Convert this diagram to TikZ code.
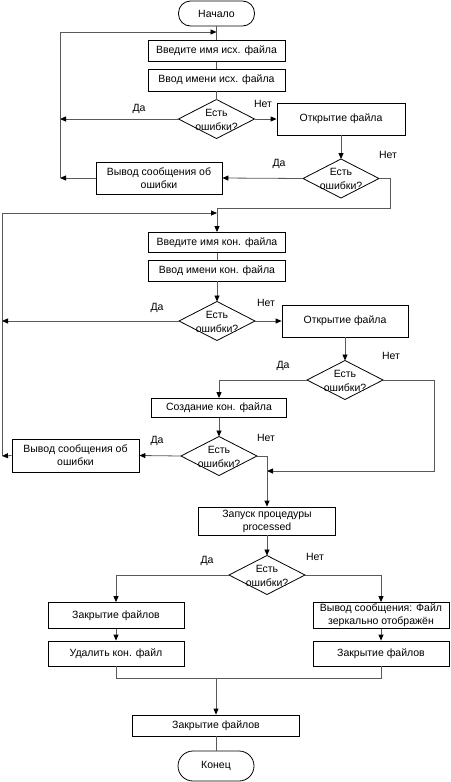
\documentclass[tikz,border=0pt]{standalone}
\usepackage{fontspec}
\setmainfont{Liberation Sans}
\usetikzlibrary{arrows.meta}
\begin{document}
\begin{tikzpicture}[x=1pt,y=-1pt,
  base/.style={draw=black,line width=0.8pt,inner sep=1pt,align=center,font=\fontsize{10.5}{13}\selectfont},
  proc/.style={base,rectangle},
  term/.style={base,rectangle,rounded corners=12pt},
  dia/.style={draw=black,line width=0.8pt},
  dtxt/.style={inner sep=0pt,align=center,font=\fontsize{10.5}{14}\selectfont},
  lbl/.style={inner sep=0pt,font=\fontsize{10.5}{12}\selectfont},
  con/.style={draw=black!65,line width=0.8pt},
  arr/.style={con,-{Triangle[length=6pt,width=5pt,fill=black,color=black]}}
]
\useasboundingbox (0,0) rectangle (450,782);
\newcommand{\mydia}[3]{%
  \coordinate (#1) at (#2,#3);
  \path[dia] (#2-38,#3) coordinate (#1w) -- (#2,#3-19.5) coordinate (#1n) -- (#2+38,#3) coordinate (#1e) -- (#2,#3+19.5) coordinate (#1s) -- cycle;
  \node[dtxt] (#1t) at (#2,#3+0.5) {Есть\\ошибки?};}

% nodes
\node[term,minimum width=76pt,minimum height=25pt] (start) at (216.5,13.5) {Начало};
\node[proc,minimum width=137pt,minimum height=21pt] (b1) at (216.5,51) {Введите имя исх. файла};
\node[proc,minimum width=137pt,minimum height=22pt] (b2) at (216.5,80) {Ввод имени исх. файла};
\mydia{d1}{216.5}{119}
\node[proc,minimum width=128pt,minimum height=32pt] (o1) at (341,119) {Открытие файла};
\mydia{d2}{341}{178.5}
\node[proc,minimum width=126pt,minimum height=32pt] (e1) at (159,178) {Вывод сообщения об\\ошибки};

\node[proc,minimum width=137pt,minimum height=20pt] (b3) at (217,242.5) {Введите имя кон. файла};
\node[proc,minimum width=137pt,minimum height=21pt] (b4) at (217,270.5) {Ввод имени кон. файла};
\mydia{d3}{217}{321}
\node[proc,minimum width=126pt,minimum height=32pt] (o2) at (345,321) {Открытие файла};
\mydia{d4}{345}{380}
\node[proc,minimum width=135pt,minimum height=19pt] (c1) at (219,408) {Создание кон. файла};
\mydia{d5}{219}{456}
\node[proc,minimum width=127pt,minimum height=33pt] (e2) at (75.5,455.5) {Вывод сообщения об\\ошибки};

\node[proc,minimum width=137pt,minimum height=28pt] (p1) at (267,521) {Запуск процедуры\\processed};
\mydia{d6}{267}{575}
\node[proc,minimum width=136pt,minimum height=26pt] (z1) at (116,615.5) {Закрытие файлов};
\node[proc,minimum width=136pt,minimum height=25pt] (u1) at (116,653.5) {Удалить кон. файл};
\node[proc,minimum width=136pt,minimum height=26pt] (v1) at (381,615.5) {Вывод сообщения: Файл\\зеркально отображён};
\node[proc,minimum width=136pt,minimum height=25pt] (z2) at (381,653.5) {Закрытие файлов};
\node[proc,minimum width=167pt,minimum height=21pt] (z3) at (216,725.5) {Закрытие файлов};
\node[term,minimum width=76pt,minimum height=30pt,rounded corners=15pt] (end) at (216,766) {Конец};

% coordinates
\coordinate (L1a) at (60,119);
\coordinate (L1b) at (60,178);
\coordinate (L1top) at (60,32);
\coordinate (M1) at (216.5,32);
\coordinate (R2a) at (390.5,178.5);
\coordinate (R2b) at (390.5,208);
\coordinate (M2) at (217,208);
\coordinate (L2top) at (2,213);
\coordinate (M2b) at (217,213);
\coordinate (L2a) at (2,321);
\coordinate (L2b) at (2,456);
\coordinate (K4) at (219,380);
\coordinate (R4a) at (434,380);
\coordinate (R4b) at (434,471);
\coordinate (J4) at (267,471);
\coordinate (R5) at (267,456);
\coordinate (K6l) at (116,575);
\coordinate (K6r) at (381,575);
\coordinate (Jl) at (116,678);
\coordinate (Jr) at (381,678);
\coordinate (Jm) at (216,678);

% connectors part 1
\draw[con] (start) -- (b1);
\draw[con] (b1) -- (b2);
\draw[con] (b2) -- (d1n);
\draw[arr] (d1w) -- (L1a);
\draw[arr] (d1e) -- (o1.west);
\draw[arr] (o1.south) -- (d2n);
\draw[arr] (d2w) -- (e1.east);
\draw[arr] (e1.west) -- (L1b);
\draw[arr] (L1b) -- (L1top) -- (M1);
\draw[con] (d2e) -- (R2a) -- (R2b) -- (M2);
\draw[arr] (M2) -- (b3.north);

% part 2
\draw[arr] (L2b) -- (L2top) -- (M2b);
\draw[con] (b3) -- (b4);
\draw[arr] (b4) -- (d3n);
\draw[arr] (d3w) -- (L2a);
\draw[arr] (d3e) -- (o2.west);
\draw[arr] (o2.south) -- (d4n);
\draw[arr] (d4w) -- (K4) -- (c1.north);
\draw[arr] (c1) -- (d5n);
\draw[arr] (d5w) -- (e2.east);
\draw[arr] (e2.west) -- (L2b);
\draw[arr] (d4e) -- (R4a) -- (R4b) -- (J4);
\draw[arr] (d5e) -- (R5) -- (p1.north);

% part 3
\draw[arr] (p1) -- (d6n);
\draw[arr] (d6w) -- (K6l) -- (z1.north);
\draw[arr] (d6e) -- (K6r) -- (v1.north);
\draw[arr] (z1) -- (u1);
\draw[arr] (v1) -- (z2);
\draw[con] (u1.south) -- (Jl) -- (Jr) -- (z2.south);
\draw[arr] (Jm) -- (z3.north);
\draw[con] (z3) -- (end);

% labels
\node[lbl] (ly1) at (139,109) {Да};
\node[lbl] (ln1) at (263,104) {Нет};
\node[lbl] (ln2) at (388,155) {Нет};
\node[lbl] (ly2) at (279,164) {Да};
\node[lbl] (ly3) at (157,308) {Да};
\node[lbl] (ln3) at (266,303) {Нет};
\node[lbl] (ln4) at (391,356) {Нет};
\node[lbl] (ly4) at (283,366) {Да};
\node[lbl] (ly5) at (157,441) {Да};
\node[lbl] (ln5) at (266,438) {Нет};
\node[lbl] (ly6) at (207,561) {Да};
\node[lbl] (ln6) at (315,557) {Нет};
\end{tikzpicture}
\end{document}
